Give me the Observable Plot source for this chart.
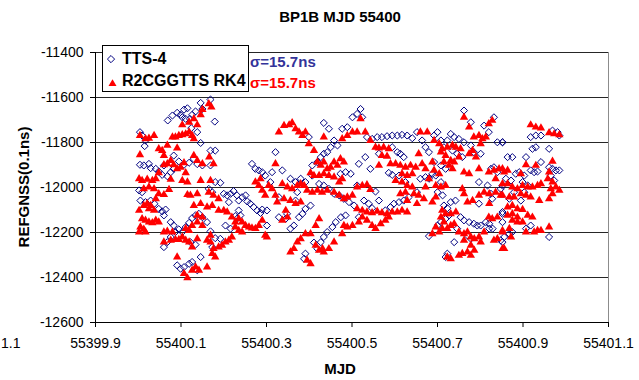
<!DOCTYPE html>
<html>
<head>
<meta charset="utf-8">
<script src="https://cdn.jsdelivr.net/npm/d3@7"></script>
<script src="https://cdn.jsdelivr.net/npm/@observablehq/plot@0.6"></script>
<style>
  html, body { margin: 0; padding: 0; background: #fff; }
  #wrap { position: relative; width: 639px; height: 380px; font-family: "Liberation Sans", Arial, sans-serif; color: #000; }
  #wrap svg { position: absolute; left: 0; top: 0; }
  .ov { position: absolute; line-height: 1; white-space: nowrap; }
  .b { font-weight: bold; }
  #legend { position: absolute; left: 102px; top: 45px; width: 145px; height: 45px; border: 1px solid #000; background: #fff; }
</style>
</head>
<body>
<div id="wrap"></div>
<script>
// ---- chart text ----
const title = "BP1B MJD 55400";
const yLabel = "REFGNSS(0.1ns)";
const xLabel = "MJD";
const seriesNames = ["TTS-4", "R2CGGTTS RK4"];
const sigmaLabels = ["σ=15.7ns", "σ=15.7ns"];

// ---- axis ticks ----
const xTicks = [55399.9, 55400.1, 55400.3, 55400.5, 55400.7, 55400.9, 55401.1];
const yTicks = [-12600, -12400, -12200, -12000, -11800, -11600, -11400];

// ---- series: TTS-4 [MJD, REFGNSS(0.1ns)] ----
const tts = [
[55400.004,-11754],[55400.015,-11816],[55400.017,-11791],[55400.009,-11769],[55400.069,-11702],[55400.080,-11680],
[55400.091,-11668],[55400.099,-11677],[55400.107,-11654],[55400.115,-11648],[55400.103,-11688],[55400.111,-11695],
[55400.121,-11695],[55400.126,-11677],[55400.134,-11662],[55400.146,-11624],[55400.150,-11651],[55400.124,-11736],
[55400.138,-11754],[55400.146,-11802],[55400.004,-11899],[55400.013,-11902],[55400.025,-11895],[55400.029,-11914],
[55400.041,-11917],[55400.048,-11929],[55400.056,-11944],[55400.068,-11950],[55400.076,-11932],[55400.083,-11917],
[55400.060,-11902],[55400.083,-11858],[55400.095,-11884],[55400.107,-11899],[55400.119,-11890],[55400.130,-11873],
[55400.138,-11896],[55400.150,-11902],[55400.002,-12013],[55400.009,-12021],[55400.005,-12058],[55400.017,-12065],
[55400.029,-12058],[55400.038,-12072],[55400.048,-12095],[55400.056,-12106],[55400.060,-12124],[55400.064,-12098],
[55400.076,-12154],[55400.083,-12169],[55400.095,-12186],[55400.103,-12198],[55400.111,-12176],[55400.119,-12157],
[55400.126,-12136],[55400.134,-12124],[55400.142,-12117],[55400.150,-12132],[55400.060,-12265],[55400.068,-12243],
[55400.076,-12220],[55400.087,-12198],[55400.122,-12243],[55400.134,-12254],[55400.146,-12309],[55400.091,-12346],
[55400.099,-12361],[55400.107,-12354],[55400.119,-12339],[55400.126,-12331],[55400.138,-12368],
[55400.169,-11609],[55400.179,-11707],[55400.180,-11836],[55400.169,-11836],[55400.169,-11902],[55400.180,-11976],
[55400.192,-11979],[55400.165,-12006],[55400.173,-12021],[55400.200,-12028],[55400.208,-12035],[55400.216,-12028],
[55400.212,-12065],[55400.223,-12016],[55400.231,-12035],[55400.235,-12058],[55400.243,-12043],[55400.251,-12035],
[55400.255,-12062],[55400.262,-12072],[55400.270,-12087],[55400.278,-12102],[55400.286,-12113],[55400.290,-12098],
[55400.301,-12102],[55400.235,-12102],[55400.239,-12124],[55400.227,-12127],[55400.231,-12139],[55400.161,-12154],
[55400.169,-12195],[55400.180,-12225],[55400.192,-12228],[55400.204,-12169],[55400.216,-12183],[55400.173,-12265],
[55400.301,-12169],[55400.266,-11895],[55400.274,-11917],[55400.282,-11924],[55400.290,-11932],[55400.297,-11947],
[55400.313,-11932],[55400.321,-11843],[55400.309,-11976],[55400.329,-12043],[55400.329,-12132],
[55400.434,-11713],[55400.446,-11739],[55400.477,-11739],[55400.489,-11732],[55400.501,-11688],[55400.399,-11776],
[55400.458,-11791],[55400.466,-11813],[55400.450,-11821],[55400.442,-11843],[55400.434,-11850],[55400.427,-11865],
[55400.419,-11887],[55400.407,-11902],[55400.337,-11924],[55400.356,-11961],[55400.368,-11976],[55400.380,-11961],
[55400.391,-11976],[55400.407,-11947],[55400.473,-11939],[55400.485,-11932],[55400.497,-11939],[55400.423,-11984],
[55400.434,-11991],[55400.446,-12006],[55400.458,-12028],[55400.470,-12035],[55400.481,-12050],[55400.493,-12065],
[55400.505,-12080],[55400.372,-12021],[55400.368,-12058],[55400.403,-12080],[55400.391,-12095],[55400.384,-12117],
[55400.376,-12132],[55400.348,-12117],[55400.345,-12139],[55400.364,-12169],[55400.356,-12183],[55400.411,-12245],
[55400.427,-12243],[55400.434,-12220],[55400.442,-12198],[55400.454,-12176],[55400.462,-12154],[55400.474,-12132],
[55400.485,-12124],[55400.391,-12294],[55400.388,-12317],[55400.419,-12272],
[55400.520,-11651],[55400.512,-11673],[55400.524,-11688],[55400.535,-11776],[55400.547,-11784],[55400.559,-11776],
[55400.570,-11776],[55400.582,-11772],[55400.594,-11769],[55400.606,-11769],[55400.617,-11766],[55400.629,-11769],
[55400.641,-11781],[55400.652,-11754],[55400.664,-11791],[55400.672,-11821],[55400.680,-11843],[55400.594,-11821],
[55400.606,-11843],[55400.613,-11850],[55400.621,-11865],[55400.563,-11850],[55400.531,-11865],[55400.543,-11917],
[55400.516,-11895],[55400.512,-11991],[55400.555,-12018],[55400.586,-11935],[55400.594,-11944],[55400.610,-11947],
[55400.625,-11976],[55400.652,-12021],[55400.660,-11961],[55400.672,-11954],[55400.680,-11961],[55400.528,-12058],
[55400.539,-12072],[55400.563,-12058],[55400.547,-12092],[55400.578,-12102],[55400.590,-12087],[55400.598,-12072],
[55400.610,-12065],[55400.621,-12058],[55400.633,-12043],[55400.516,-12132],[55400.680,-12216],
[55400.762,-11658],[55400.778,-11710],[55400.809,-11725],[55400.820,-11754],[55400.832,-11688],[55400.840,-11799],
[55400.852,-11799],[55400.700,-11754],[55400.692,-11769],[55400.731,-11762],[55400.739,-11776],[55400.750,-11784],
[55400.762,-11799],[55400.778,-11813],[55400.723,-11791],[55400.708,-11791],[55400.715,-11821],[55400.735,-11836],
[55400.746,-11850],[55400.758,-11865],[55400.785,-11843],[55400.801,-11850],[55400.692,-11887],[55400.708,-11902],
[55400.719,-11917],[55400.688,-11939],[55400.696,-11947],[55400.708,-11976],[55400.700,-12021],[55400.712,-12035],
[55400.797,-11976],[55400.817,-11991],[55400.825,-11917],[55400.832,-11910],[55400.840,-11932],[55400.825,-12028],
[55400.828,-12050],[55400.797,-12072],[55400.848,-12006],[55400.852,-12117],[55400.715,-12080],[55400.723,-12092],
[55400.731,-12065],[55400.742,-12058],[55400.727,-12124],[55400.719,-12139],[55400.708,-12154],[55400.700,-12169],
[55400.754,-12132],[55400.762,-12146],[55400.774,-12154],[55400.785,-12161],[55400.793,-12169],[55400.801,-12169],
[55400.813,-12154],[55400.821,-12161],[55400.829,-12183],[55400.821,-12183],[55400.746,-12183],[55400.739,-12243],
[55400.723,-12294],[55400.719,-12309],[55400.770,-12213],[55400.778,-12228],[55400.848,-12235],
[55400.852,-11799],[55400.918,-11776],[55400.930,-11769],[55400.942,-11769],[55400.969,-11747],[55400.981,-11754],
[55400.985,-11769],[55400.961,-11828],[55400.922,-11828],[55400.930,-11821],[55400.864,-11865],[55400.875,-11865],
[55400.907,-11865],[55400.942,-11887],[55400.918,-11924],[55400.926,-11932],[55400.934,-11929],[55400.961,-11910],
[55400.969,-11917],[55400.977,-11924],[55400.985,-11924],[55400.883,-11939],[55400.891,-11932],[55400.903,-11947],
[55400.860,-11961],[55400.872,-11969],[55400.899,-11976],[55400.911,-11991],[55400.965,-11947],[55400.973,-11969],
[55400.852,-11991],[55400.879,-12021],[55400.895,-12058],[55400.903,-12021],[55400.868,-12050],[55400.852,-12109],
[55400.852,-12154],[55400.918,-12169],[55400.907,-12183],[55400.875,-12198],[55400.868,-12206],[55400.856,-12220],
[55400.961,-12220],[55400.852,-12243]
];

// ---- series: R2CGGTTS RK4 [MJD, REFGNSS(0.1ns)] ----
const rk4 = [
[55400.004,-11769],[55400.017,-11784],[55400.025,-11781],[55400.037,-11769],[55400.004,-11855],[55400.103,-11722],
[55400.119,-11710],[55400.130,-11695],[55400.138,-11722],[55400.146,-11677],[55400.150,-11654],[55400.080,-11776],
[55400.087,-11776],[55400.095,-11769],[55400.103,-11766],[55400.111,-11762],[55400.119,-11754],[55400.126,-11769],
[55400.130,-11784],[55400.068,-11813],[55400.091,-11825],[55400.048,-11828],[55400.056,-11836],[55400.060,-11858],
[55400.060,-11899],[55400.068,-11895],[55400.076,-11880],[55400.083,-11899],[55400.091,-11917],[55400.099,-11910],
[55400.111,-11935],[55400.107,-11890],[55400.130,-11858],[55400.138,-11880],[55400.150,-11895],[55400.002,-11961],
[55400.009,-11969],[55400.021,-11964],[55400.033,-11969],[55400.041,-11961],[55400.048,-11935],[55400.076,-11964],
[55400.103,-11969],[55400.115,-11976],[55400.146,-11969],[55400.013,-12006],[55400.025,-11998],[55400.037,-12006],
[55400.048,-12028],[55400.060,-12032],[55400.072,-12009],[55400.115,-12032],[55400.122,-12035],[55400.138,-12028],
[55400.146,-12072],[55400.130,-12080],[55400.002,-12102],[55400.013,-12080],[55400.021,-12072],[55400.029,-12080],
[55400.025,-12095],[55400.037,-12102],[55400.041,-12050],[55400.009,-12139],[55400.017,-12146],[55400.025,-12154],
[55400.033,-12157],[55400.041,-12146],[55400.048,-12154],[55400.005,-12176],[55400.013,-12186],[55400.017,-12198],
[55400.002,-12198],[55400.060,-12198],[55400.068,-12195],[55400.080,-12198],[55400.111,-12183],[55400.119,-12191],
[55400.126,-12169],[55400.138,-12154],[55400.150,-12169],[55400.138,-12124],[55400.150,-12132],[55400.060,-12243],
[55400.076,-12235],[55400.087,-12231],[55400.095,-12231],[55400.103,-12220],[55400.111,-12235],[55400.119,-12243],
[55400.126,-12265],[55400.138,-12228],[55400.091,-12309],[55400.107,-12383],[55400.115,-12402],[55400.126,-12368],
[55400.134,-12354],[55400.142,-12368],
[55400.165,-11628],[55400.171,-11643],[55400.166,-11865],[55400.176,-11895],[55400.169,-11969],[55400.165,-12021],
[55400.176,-12035],[55400.188,-12050],[55400.161,-12087],[55400.173,-12080],[55400.188,-12102],[55400.200,-12102],
[55400.208,-12109],[55400.219,-12132],[55400.227,-12154],[55400.235,-12139],[55400.243,-12154],[55400.251,-12169],
[55400.259,-12176],[55400.266,-12180],[55400.274,-12183],[55400.282,-12169],[55400.290,-12146],[55400.297,-12213],
[55400.301,-12220],[55400.227,-12176],[55400.235,-12191],[55400.243,-12198],[55400.219,-12220],[55400.212,-12235],
[55400.204,-12243],[55400.196,-12257],[55400.188,-12265],[55400.176,-12272],[55400.169,-12243],[55400.161,-12235],
[55400.173,-12294],[55400.180,-12309],[55400.161,-12354],[55400.169,-12213],[55400.274,-11976],[55400.282,-11991],
[55400.290,-12013],[55400.297,-12035],[55400.305,-11991],[55400.313,-12006],[55400.321,-12035],[55400.325,-12065],
[55400.321,-11895],[55400.329,-11754],[55400.286,-11961],
[55400.341,-11725],[55400.353,-11722],[55400.360,-11713],[55400.368,-11739],[55400.376,-11754],[55400.384,-11769],
[55400.391,-11754],[55400.399,-11806],[55400.411,-11836],[55400.434,-11776],[55400.477,-11784],[55400.489,-11769],
[55400.501,-11754],[55400.419,-11887],[55400.427,-11902],[55400.434,-11887],[55400.442,-11917],[55400.450,-11910],
[55400.458,-11887],[55400.466,-11902],[55400.473,-11873],[55400.481,-11887],[55400.403,-11935],[55400.411,-11947],
[55400.423,-11947],[55400.434,-11939],[55400.446,-11947],[55400.458,-11954],[55400.470,-11976],[55400.477,-11961],
[55400.337,-11984],[55400.349,-11998],[55400.360,-12006],[55400.372,-11991],[55400.380,-11984],[55400.388,-11991],
[55400.395,-12013],[55400.407,-12021],[55400.419,-12013],[55400.430,-12021],[55400.442,-12013],[55400.458,-12021],
[55400.470,-12035],[55400.481,-12050],[55400.489,-12043],[55400.501,-12035],[55400.341,-12050],[55400.356,-12058],
[55400.368,-12072],[55400.380,-12065],[55400.345,-12102],[55400.337,-12146],[55400.349,-12132],[55400.423,-12139],
[55400.415,-12169],[55400.481,-12169],[55400.489,-12176],[55400.501,-12169],[55400.477,-12206],[55400.380,-12228],
[55400.391,-12206],[55400.403,-12206],[55400.372,-12243],[55400.364,-12272],[55400.356,-12287],[55400.415,-12257],
[55400.423,-12279],[55400.434,-12287],[55400.446,-12272],[55400.458,-12243],[55400.403,-12339],[55400.395,-12324],
[55400.431,-12272],
[55400.520,-11695],[55400.512,-11754],[55400.531,-11754],[55400.543,-11791],[55400.555,-11821],[55400.563,-11825],
[55400.574,-11821],[55400.586,-11828],[55400.570,-11858],[55400.582,-11861],[55400.590,-11895],[55400.602,-11895],
[55400.613,-11902],[55400.625,-11910],[55400.637,-11902],[55400.649,-11910],[55400.656,-11850],[55400.664,-11895],
[55400.672,-11917],[55400.676,-11754],[55400.660,-11754],[55400.563,-11902],[55400.617,-11939],[55400.629,-11947],
[55400.641,-11939],[55400.602,-11969],[55400.617,-11976],[55400.629,-11991],[55400.641,-11998],[55400.613,-12028],
[55400.625,-12021],[55400.645,-12028],[55400.656,-12035],[55400.668,-12050],[55400.672,-11998],[55400.680,-11961],
[55400.652,-12072],[55400.629,-12058],[55400.512,-11998],[55400.524,-11991],[55400.535,-11988],[55400.543,-12009],
[55400.512,-12095],[55400.524,-12102],[55400.535,-12109],[55400.547,-12113],[55400.559,-12106],[55400.570,-12113],
[55400.582,-12117],[55400.594,-12109],[55400.606,-12109],[55400.617,-12102],[55400.629,-12109],[55400.524,-12132],
[55400.535,-12146],[55400.547,-12169],[55400.555,-12183],[55400.567,-12161],[55400.578,-12146],[55400.586,-12132],
[55400.516,-12154],
[55400.762,-11688],[55400.774,-11732],[55400.785,-11776],[55400.797,-11769],[55400.805,-11784],[55400.813,-11776],
[55400.820,-11717],[55400.828,-11702],[55400.801,-11806],[55400.692,-11791],[55400.704,-11806],[55400.711,-11828],
[55400.723,-11821],[55400.735,-11813],[55400.743,-11821],[55400.754,-11828],[55400.708,-11843],[55400.719,-11858],
[55400.731,-11880],[55400.739,-11887],[55400.750,-11865],[55400.774,-11850],[55400.782,-11836],[55400.790,-11865],
[55400.762,-11932],[55400.774,-11939],[55400.727,-11902],[55400.735,-11917],[55400.715,-11887],[55400.688,-11887],
[55400.692,-11924],[55400.704,-11939],[55400.797,-11917],[55400.820,-11932],[55400.832,-11924],[55400.844,-11917],
[55400.856,-11932],[55400.836,-11961],[55400.696,-11991],[55400.708,-11998],[55400.719,-11991],[55400.688,-12065],
[55400.696,-12043],[55400.758,-12006],[55400.762,-12028],[55400.770,-12065],[55400.782,-12058],[55400.797,-12035],
[55400.809,-12021],[55400.821,-12028],[55400.836,-12021],[55400.848,-12035],[55400.821,-12072],[55400.711,-12102],
[55400.719,-12117],[55400.731,-12117],[55400.743,-12109],[55400.708,-12132],[55400.715,-12154],[55400.696,-12176],
[55400.688,-12206],[55400.704,-12198],[55400.711,-12183],[55400.723,-12183],[55400.731,-12169],[55400.739,-12161],
[55400.750,-12198],[55400.762,-12206],[55400.770,-12198],[55400.778,-12220],[55400.786,-12228],[55400.797,-12220],
[55400.809,-12198],[55400.820,-12132],[55400.828,-12139],[55400.840,-12132],[55400.840,-12228],[55400.832,-12235],
[55400.852,-12198],[55400.852,-12272],[55400.778,-12257],[55400.786,-12279],[55400.762,-12235],[55400.758,-12294],
[55400.770,-12287],[55400.778,-12302],[55400.750,-12302],[55400.731,-12317],[55400.723,-12309],[55400.801,-12243],
[55400.918,-11722],[55400.930,-11732],[55400.942,-11736],[55400.961,-11757],[55400.973,-11762],[55400.985,-11766],
[55400.907,-11899],[55400.930,-11902],[55400.969,-11884],[55400.961,-11932],[55400.895,-11939],[55400.852,-11917],
[55400.864,-11924],[55400.958,-11961],[55400.969,-11976],[55400.942,-11984],[55400.852,-11984],[55400.864,-11984],
[55400.875,-11998],[55400.887,-12006],[55400.899,-11991],[55400.911,-11998],[55400.922,-11998],[55400.934,-11991],
[55400.977,-11998],[55400.985,-12013],[55400.965,-12006],[55400.969,-12028],[55400.961,-12050],[55400.852,-12035],
[55400.868,-12043],[55400.879,-12043],[55400.895,-12028],[55400.907,-12035],[55400.918,-12043],[55400.938,-12058],
[55400.864,-12087],[55400.875,-12080],[55400.887,-12095],[55400.899,-12098],[55400.864,-12124],[55400.875,-12117],
[55400.887,-12132],[55400.911,-12124],[55400.922,-12132],[55400.875,-12146],[55400.887,-12154],[55400.899,-12154],
[55400.852,-12191],[55400.868,-12183],[55400.907,-12198],[55400.926,-12198],[55400.934,-12191],[55400.942,-12191],
[55400.961,-12176],[55400.872,-12220],[55400.856,-12272]
];

const seriesColors = ["#000080", "#ff0000"];
const sigmaColors = ["#333399", "#ff0000"];

const font = '"Liberation Sans", Arial, sans-serif';

const chart = Plot.plot({
  width: 639,
  height: 380,
  marginLeft: 95,
  marginRight: 31,
  marginTop: 52,
  marginBottom: 58,
  style: { fontFamily: font, fontSize: "14px", color: "#000", background: "transparent", overflow: "visible" },
  x: { domain: [xTicks[0], xTicks[xTicks.length - 1]] },
  y: { domain: [yTicks[0], yTicks[yTicks.length - 1]] },
  marks: [
    Plot.gridY(yTicks, { stroke: "#000", strokeOpacity: 0.85, strokeWidth: 1 }),
    Plot.ruleX([xTicks[xTicks.length - 1]], { stroke: "#8c8c8c" }),
    Plot.dot(tts, { x: d => d[0], y: d => d[1], symbol: "diamond2", r: 3.2, stroke: seriesColors[0], fill: "none", strokeWidth: 1 }),
    Plot.dot(rk4, { x: d => d[0], y: d => d[1], symbol: "triangle", r: 3.1, fill: seriesColors[1], stroke: "none" }),
    Plot.ruleX([xTicks[0]], { stroke: "#000" }),
    Plot.ruleY([yTicks[0]], { stroke: "#000" }),
    Plot.axisX(xTicks, { tickFormat: d => d.toFixed(1), tickSize: 5, tickPadding: 11, label: null, stroke: "#000" }),
    Plot.axisY(yTicks, { tickFormat: d => String(d), tickSize: 5, tickPadding: 7, label: null, stroke: "#000" })
  ]
});

const wrap = document.getElementById("wrap");
wrap.appendChild(chart);

function addText(txt, css, cls) {
  const el = document.createElement("div");
  el.className = "ov " + (cls || "");
  el.textContent = txt;
  el.style.cssText += css;
  wrap.appendChild(el);
  return el;
}

// title
addText(title, "left:340px;top:9px;font-size:15px;transform:translateX(-50%);", "b");
// axis titles
addText(yLabel, "left:23px;top:187px;font-size:15px;transform:translate(-50%,-50%) rotate(-90deg);", "b");
addText(xLabel, "left:340px;top:361px;font-size:15px;transform:translateX(-50%);", "b");
// clipped tick label at far left
addText("1.1", "left:1px;top:336px;font-size:14px;", "");

// legend
const legend = document.createElement("div");
legend.id = "legend";
legend.innerHTML =
  '<svg width="16" height="45" style="position:absolute;left:0;top:0">' +
  '<path d="M8,9.5 L11.6,13.1 L8,16.7 L4.4,13.1 Z" fill="none" stroke="' + seriesColors[0] + '" stroke-width="1"/>' +
  '<path d="M9.5,33.2 L13.5,40.1 L5.5,40.1 Z" fill="' + seriesColors[1] + '"/>' +
  '</svg>' +
  '<div class="ov b" style="left:19px;top:5px;font-size:16px;">' + seriesNames[0] + '</div>' +
  '<div class="ov b" style="left:19px;top:27px;font-size:16px;">' + seriesNames[1] + '</div>';
wrap.appendChild(legend);

// sigma annotations
addText(sigmaLabels[0], "left:250px;top:54px;font-size:15px;color:" + sigmaColors[0] + ";", "b");
addText(sigmaLabels[1], "left:250px;top:75px;font-size:15px;color:" + sigmaColors[1] + ";", "b");
</script>
</body>
</html>
